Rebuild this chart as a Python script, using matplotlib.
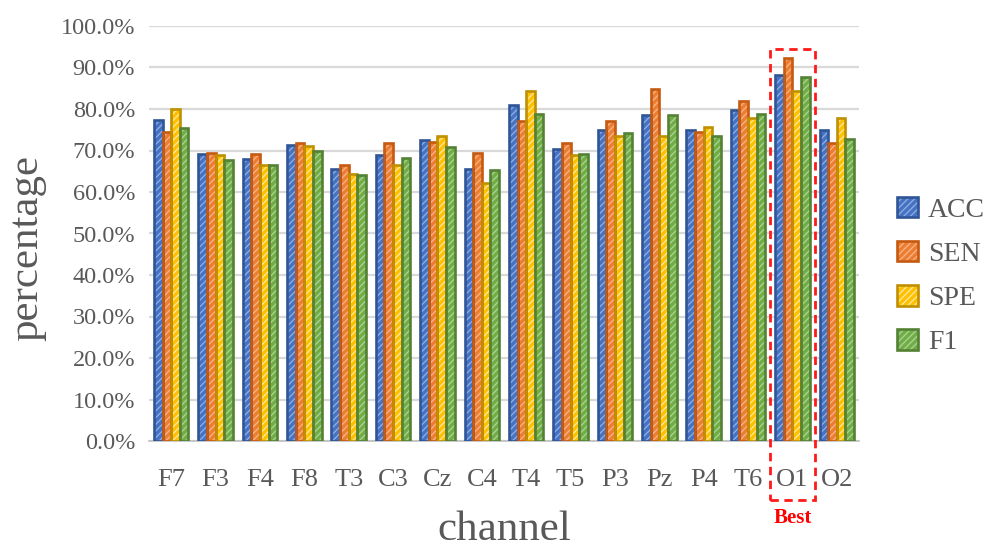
import numpy as np
import matplotlib
matplotlib.use("Agg")
import matplotlib.pyplot as plt
from matplotlib.patches import Rectangle
from matplotlib.ticker import FuncFormatter

channels = ["F7", "F3", "F4", "F8", "T3", "C3", "Cz", "C4",
            "T4", "T5", "P3", "Pz", "P4", "T6", "O1", "O2"]
acc = [77.4, 69.2, 67.9, 71.4, 65.5, 69.0, 72.6, 65.6,
       81.0, 70.3, 75.0, 78.6, 75.0, 79.8, 88.2, 75.0]
sen = [74.4, 69.4, 69.2, 71.9, 66.6, 71.9, 72.0, 69.3,
       77.0, 71.9, 77.0, 84.7, 74.4, 82.0, 92.4, 71.8]
spe = [80.0, 68.8, 66.6, 71.2, 64.4, 66.6, 73.4, 62.2,
       84.4, 68.8, 73.4, 73.4, 75.6, 77.8, 84.4, 77.8]
f1 = [75.4, 67.6, 66.6, 70.0, 64.2, 68.3, 70.8, 65.2,
      78.9, 69.2, 74.1, 78.6, 73.4, 78.9, 87.7, 72.8]
series_names = ["ACC", "SEN", "SPE", "F1"]
best_channel = "O1"

# fill, hatch, edge colours per series
styles = [
    ("#4472C4", "#8FAADC", "#2F5597"),
    ("#ED7D31", "#F4B183", "#C55A11"),
    ("#FFC000", "#FFE699", "#BF9000"),
    ("#70AD47", "#A9D18E", "#548235"),
]

plt.rcParams["font.family"] = ["Liberation Serif", "DejaVu Serif"]
plt.rcParams["hatch.linewidth"] = 1.0
text_color = "#595959"

fig = plt.figure(figsize=(9.97, 5.47), dpi=100)
ax = fig.add_axes([149 / 997, 1 - 441 / 547, 710 / 997, 415 / 547])

x = np.arange(len(channels))
width = 0.195
handles = []
for i, (vals, (fc, hc, ec)) in enumerate(zip([acc, sen, spe, f1], styles)):
    pos = x + (i - 1.5) * width
    fill = ax.bar(pos, vals, width, color=fc, edgecolor=hc, hatch="/////",
                  linewidth=0, zorder=3)
    edge = ax.bar(pos, vals, width, fill=False, edgecolor=ec,
                  linewidth=1.9, zorder=4)
    handles.append((fill[0], edge[0]))

ax.set_xlim(-0.5, len(channels) - 0.5)
ax.set_ylim(0, 100)
ax.set_yticks(np.arange(0, 101, 10))
ax.yaxis.set_major_formatter(FuncFormatter(lambda v, _: f"{v:.1f}%"))
ax.set_xticks(x)
ax.set_xticklabels(channels)
ax.grid(axis="y", color="#D9D9D9", linewidth=1.6, zorder=0)
ax.set_axisbelow(True)
for side in ["top", "right", "left"]:
    ax.spines[side].set_visible(False)
ax.spines["bottom"].set_color("#BFBFBF")
ax.spines["bottom"].set_linewidth(1.2)
ax.tick_params(axis="both", length=0, colors=text_color)
ax.tick_params(axis="x", pad=20, labelsize=19)
ax.tick_params(axis="y", pad=10, labelsize=17.5)

ax.set_xlabel("channel", fontsize=31, color=text_color, labelpad=14)
ax.set_ylabel("percentage", fontsize=31, color=text_color)
ax.yaxis.set_label_coords(-0.145, 0.465)

# highlight the best channel
bi = channels.index(best_channel)
ax.add_patch(Rectangle((bi - 0.5, -14.2), 1.0, 94.5 + 14.2, fill=False,
                       edgecolor="#FF1A1A", linestyle=(0, (3, 2)),
                       linewidth=2.0, clip_on=False, zorder=6))
ax.text(bi, -18.6, "Best", color="#FF0000", fontsize=15, fontweight="bold",
        ha="center", va="center", clip_on=False)

leg = fig.legend(handles, series_names, loc="center left",
                 bbox_to_anchor=(897 / 997, 1 - 276 / 547), frameon=False,
                 fontsize=20, handlelength=0.76, handleheight=0.76,
                 handletextpad=0.35, labelspacing=0.66,
                 borderpad=0, borderaxespad=0)
for t in leg.get_texts():
    t.set_color(text_color)

fig.savefig("out.png", dpi=100)
